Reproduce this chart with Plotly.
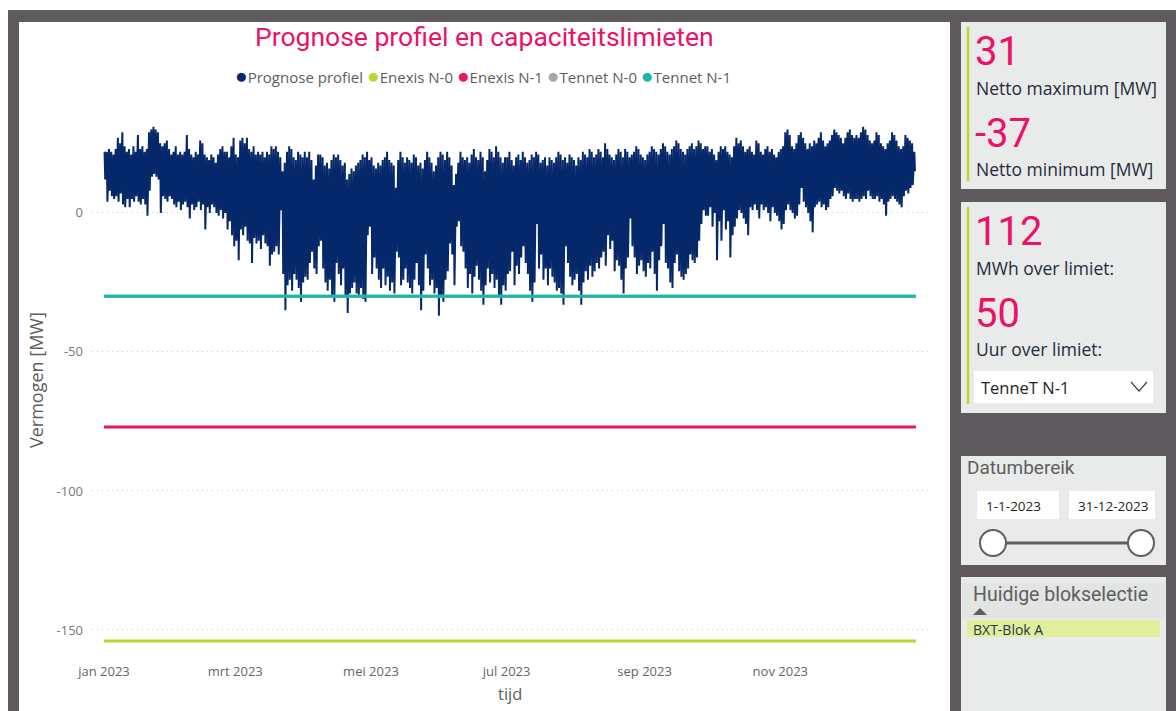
import pandas as pd
import plotly.graph_objects as go

W, H = 1176, 711

# ---------------- data ----------------
# daily maximum and minimum of the forecast profile [MW], 1 Jan .. 31 Dec 2023
daily_max = [
    22, 22, 23, 22, 21, 23, 27, 25, 29, 24,
    22, 23, 21, 24, 22, 28, 23, 24, 22, 23,
    29, 30, 31, 30, 29, 25, 24, 25, 26, 23,
    21, 22, 24, 21, 22, 21, 22, 28, 23, 21,
    20, 22, 21, 26, 25, 21, 20, 19, 21, 20,
    18, 21, 23, 24, 22, 22, 20, 24, 27, 21,
    20, 26, 27, 25, 27, 23, 22, 24, 21, 22,
    21, 22, 20, 22, 21, 24, 23, 24, 22, 20,
    15, 18, 22, 24, 23, 20, 19, 22, 21, 20,
    22,
    20, 22, 19, 12, 17, 21, 21, 20, 17, 18,
    16, 19, 21, 20, 21, 19, 17, 18, 12, 14,
    16, 15, 17, 18, 19, 21, 20, 22, 19, 20,
    17, 16, 18, 17, 19, 20, 22, 19, 18, 17,
    9, 19, 22, 20, 18, 20, 19, 18, 21, 20,
    17, 18, 16, 19, 22, 20, 18, 15, 17, 20,
    22, 21, 19, 22, 20, 17, 10, 14, 18, 22,
    20, 19, 20, 18, 21, 23, 20, 19, 22, 20,
    15, 19, 23, 22, 20, 24, 22, 20, 18, 20,
    20, 22, 19, 17, 20, 21, 19, 22, 20, 18,
    19, 21, 20, 22, 21, 18, 19, 20, 17, 20,
    19, 18, 20, 22, 21, 19, 20, 18, 21, 20,
    19, 17, 20, 19, 22, 21, 20, 23, 22, 20,
    21, 23, 22, 20, 25, 23, 21, 20, 19, 21,
    23, 22, 20, 23, 22, 20, 21, 22, 24, 23,
    21, 20, 19, 21, 22, 24, 23, 22, 21, 23,
    25, 24, 22, 21, 23, 24, 26, 25, 23, 22,
    21, 23, 24, 25, 23, 24, 26, 25, 23, 24,
    24, 22, 23, 21, 19, 22, 24, 23, 24, 22,
    21, 20, 24, 27, 25, 26, 24, 22, 23, 24,
    22, 21, 26, 25, 22, 21, 23, 24, 22, 23,
    21, 20, 22, 23, 24, 29, 30, 28, 24, 23,
    25, 28, 29, 27, 25, 23, 25, 24, 26, 25,
    27, 29, 26, 24, 25, 26, 28, 30, 29, 28,
    27, 25, 27, 29, 30, 28, 27, 28, 27, 29,
    31, 30, 28, 26, 25, 26, 29, 28, 25, 24,
    23, 25, 26, 29, 28, 26, 24, 23, 24, 28,
    27, 26, 25, 22,
]
daily_min = [
    12, 4, 8, 6, 5, 6, 4, 7, 3, 2,
    5, 2, 5, 4, 6, 4, 3, 5, 3, -1,
    8, 13, 14, 13, 12, 0, 6, 5, 4, 6,
    5, 3, 2, 4, 1, 3, 4, 2, -2, 3,
    1, 2, 4, 1, 3, -6, 2, 0, 3, 2,
    0, -1, 1, -2, 0, -6, -3, -8, -12, -10,
    -17, -6, -8, -5, -10, -11, -18, -9, -11, -10,
    -13, -8, -11, -12, -19, -15, -14, -12, -15, 1,
    -22, -35, -26, -24, -28, -22, -24, -27, -32, -25,
    -23,
    -24, -18, -14, -20, -22, -12, -10, -20, -25, -28,
    -24, -30, -32, -18, -22, -26, -20, -30, -36, -29,
    -27, -25, -29, -30, -27, -31, -32, -8, -5, -22,
    -16, -20, -24, -27, -20, -26, -23, -28, -25, -29,
    -14, -16, -26, -24, -20, -25, -27, -29, -24, -18,
    -26, -35, -28, -15, -20, -26, -24, -29, -27, -37,
    -30, -32, -24, -21, -11, -15, -26, -5, -3, -12,
    -14, -20, -27, -22, -29, -23, -19, -24, -28, -33,
    -26, -20, -25, -22, -27, -24, -30, -33, -26, -28,
    -22, -21, -14, -26, -19, -22, -16, -12, -18, -22,
    -28, -32, -25, -4, -20, -15, -24, -20, -26, -20,
    -23, -25, -28, -27, -29, -33, -12, -18, -23, -26,
    -24, -22, -28, -33, -25, -21, -24, -19, -23, -21,
    -18, -20, -16, -14, -19, -8, -13, -10, -21, -17,
    -19, -24, -29, -20, -16, -2, -12, -16, -22, -19,
    -17, -21, -23, -18, -20, -14, -22, -28, -17, -12,
    -4, -18, -20, -25, -27, -18, -15, -21, -23, -24,
    -22, -20, -15, -17, -18, -16, -10, -4, 1, -1,
    -1, 2, -5, 0, -17, -3, -10, 1, -6, -3,
    -16, -8, -5, -2, 1, 0, -2, -4, -8, 2,
    1, 3, 1, -2, 3, 1, 2, 0, -3, 2,
    0, -1, -3, -6, -4, 1, 3, 1, 0, -2,
    -1, 3, 9, 4, 2, 0, -3, -7, 2, 3,
    4, 2, 3, 1, 2, 5, 6, 9, 8, 7,
    8, 6, 5, 7, 5, 4, 5, 5, 4, 5,
    6, 5, 8, 6, 5, 5, 6, 4, 5, 3,
    -1, 4, 5, 6, 5, 4, 3, 2, 6, 8,
    7, 9, 10, 15,
]
assert len(daily_max) == 365 and len(daily_min) == 365

limit_names = ["Enexis N-0", "Enexis N-1", "Tennet N-0", "Tennet N-1"]
limit_values = [-154, -77, -30, -30]
limit_colors = ["#bcd62f", "#ea1566", "#a8a8a8", "#16b8aa"]
profile_name = "Prognose profiel"
profile_color = "#05286a"

month_ticks = ["2023-01-01", "2023-03-01", "2023-05-01", "2023-07-01", "2023-09-01", "2023-11-01"]
month_labels = ["jan 2023", "mrt 2023", "mei 2023", "jul 2023", "sep 2023", "nov 2023"]
y_ticks = [0, -50, -100, -150]

kpi_max, kpi_min = 31, -37
kpi_mwh, kpi_hours = 112, 50
selected_limit = "TenneT N-1"
date_from, date_to = "1-1-2023", "31-12-2023"
block = "BXT-Blok A"

PINK = "#ec1168"
GREY_TXT = "#605e5c"
DARK = "#5f5a5d"
PANEL = "#e9eaea"

# ---------------- build series ----------------
start = pd.Timestamp("2023-01-01")
xs, ys = [], []
for d in range(365):
    xs.append(start + pd.Timedelta(days=d, hours=6))
    ys.append(daily_max[d])
    xs.append(start + pd.Timedelta(days=d, hours=13))
    ys.append(daily_min[d])

line_x = [start, pd.Timestamp("2023-12-31 23:00")]

fig = go.Figure()
fig.add_trace(go.Scatter(x=xs, y=ys, mode="lines", name=profile_name,
                         line=dict(color=profile_color, width=2), showlegend=False))
for n, v, c in zip(limit_names, limit_values, limit_colors):
    fig.add_trace(go.Scatter(x=line_x, y=[v, v], mode="lines", name=n,
                             line=dict(color=c, width=3), showlegend=False))

# axis geometry (pixels)
PL, PR, PT, PB = 92, 928, 100, 650
px_per_day = (916 - 104) / 365.0
pad_days = (104 - PL) / px_per_day
x0 = start - pd.Timedelta(days=pad_days)
x1 = pd.Timestamp("2024-01-01") + pd.Timedelta(days=(PR - 916) / px_per_day)


def fx(p):
    return p / W


def fy(p):
    return 1 - p / H


shapes = []


def rect(xa, ya, xb, yb, fill, line=None, lw=0):
    shapes.append(dict(type="rect", xref="paper", yref="paper", layer="below",
                       x0=fx(xa), x1=fx(xb), y0=fy(yb), y1=fy(ya), fillcolor=fill,
                       line=dict(color=line or fill, width=lw)))


# background frame
rect(0, 0, W, H, "#ffffff")
rect(8, 10, W, H + 5, DARK)
rect(19, 22, 950, H + 5, "#ffffff")
# right panels
rect(961, 22, 1166, 189, PANEL)
rect(961, 202, 1166, 413, PANEL)
rect(961, 456, 1166, 565, PANEL)
rect(961, 577, 1166, H + 5, PANEL)
rect(962, 583, 1165, 619, "#e3e4e4")
rect(974, 371, 1153, 403, "#ffffff")
rect(977, 491, 1059, 519, "#ffffff")
rect(1069, 491, 1155, 519, "#ffffff")
rect(967, 620, 1160, 637, "#e1ee9b")


def vline(x, ya, yb, color, w):
    shapes.append(dict(type="line", xref="paper", yref="paper", layer="above",
                       x0=fx(x), x1=fx(x), y0=fy(ya), y1=fy(yb), line=dict(color=color, width=w)))


vline(968, 27, 181, "#bcd62f", 2.5)
vline(968, 207, 404, "#bcd62f", 2.5)

# slider
shapes.append(dict(type="line", xref="paper", yref="paper", layer="above",
                   x0=fx(993), x1=fx(1141), y0=fy(543), y1=fy(543), line=dict(color=GREY_TXT, width=3)))
for cx in (993, 1141):
    shapes.append(dict(type="circle", xref="paper", yref="paper", layer="above",
                       x0=fx(cx - 13), x1=fx(cx + 13), y0=fy(543 + 13), y1=fy(543 - 13),
                       fillcolor="#ffffff", line=dict(color=GREY_TXT, width=2)))
# dropdown chevron
shapes.append(dict(type="path", xref="paper", yref="paper", layer="above",
                   path=f"M {fx(1131)},{fy(382)} L {fx(1139)},{fy(391)} L {fx(1147)},{fy(382)}",
                   line=dict(color="#444444", width=1.2)))
# sort indicator triangle
shapes.append(dict(type="path", xref="paper", yref="paper", layer="above",
                   path=f"M {fx(973)},{fy(615)} L {fx(980)},{fy(608)} L {fx(987)},{fy(615)} Z",
                   fillcolor=GREY_TXT, line=dict(color=GREY_TXT, width=0)))

ann = []


def text(x, y, s, size, color, font="Open Sans", xanchor="left", **kw):
    ann.append(dict(x=fx(x), y=fy(y), xref="paper", yref="paper", text=s, showarrow=False,
                    xanchor=xanchor, yanchor="middle", font=dict(size=size, color=color, family=font), **kw))


text(484, 37, "Prognose profiel en capaciteitslimieten", 26.5, PINK, font="Roboto", xanchor="center")
legend_items = [(profile_name, profile_color)] + list(zip(limit_names, limit_colors))
legend_txt = " ".join(f"<span style='color:{c};font-size:21px'>●</span>{n}" for n, c in legend_items)
text(483, 75, legend_txt, 15, GREY_TXT, xanchor="center")
text(36, 380, "Vermogen [MW]", 18, GREY_TXT, xanchor="center", textangle=-90)
text(510, 693, "tijd", 16.5, GREY_TXT, xanchor="center")

NAVY_TXT = "#252a3c"
text(973, 52, str(kpi_max), 40, PINK, font="Roboto")
text(974, 88, "Netto maximum [MW]", 17.5, NAVY_TXT)
text(973, 133, str(kpi_min), 40, PINK, font="Roboto")
text(974, 169, "Netto minimum [MW]", 17.5, NAVY_TXT)
text(973, 232, str(kpi_mwh), 40, PINK, font="Roboto")
text(974, 268, "MWh over limiet:", 17.5, NAVY_TXT)
text(973, 313, str(kpi_hours), 40, PINK, font="Roboto")
text(974, 349, "Uur over limiet:", 17.5, NAVY_TXT)
text(979, 388, selected_limit, 16.5, "#252423")
text(965, 467, "Datumbereik", 19, GREY_TXT, font="Roboto")
text(984, 506, date_from, 13.5, "#252423")
text(1076, 506, date_to, 13.5, "#252423")
text(971, 594, "Huidige blokselectie", 19.5, GREY_TXT, font="Roboto")
text(971, 629, block, 14, "#1f3550")

fig.update_layout(
    width=W, height=H,
    margin=dict(l=0, r=0, t=0, b=0),
    paper_bgcolor=DARK,
    plot_bgcolor="rgba(0,0,0,0)",
    showlegend=False,
    shapes=shapes,
    annotations=ann,
    font=dict(family="Open Sans", color=GREY_TXT),
    xaxis=dict(domain=[fx(PL), fx(PR)], range=[x0, x1], type="date",
               tickvals=month_ticks, ticktext=month_labels, showgrid=False, zeroline=False,
               showline=False, ticks="", tickfont=dict(size=13, color="#666666"),
               ticklabelstandoff=12, automargin=False),
    yaxis=dict(domain=[1 - PB / H, 1 - PT / H], range=[-157.2, 40.6],
               tickvals=y_ticks, ticktext=[str(v) for v in y_ticks], showgrid=True,
               gridcolor="#c8c8c8", griddash="1px,4px", gridwidth=1, zeroline=False,
               showline=False, ticks="", tickfont=dict(size=13, color="#777777"),
               ticklabelstandoff=8, automargin=False),
)

fig.write_html("out.html", config={"displayModeBar": False},
               post_script="document.body.style.margin='0';document.body.style.overflow='hidden';")
